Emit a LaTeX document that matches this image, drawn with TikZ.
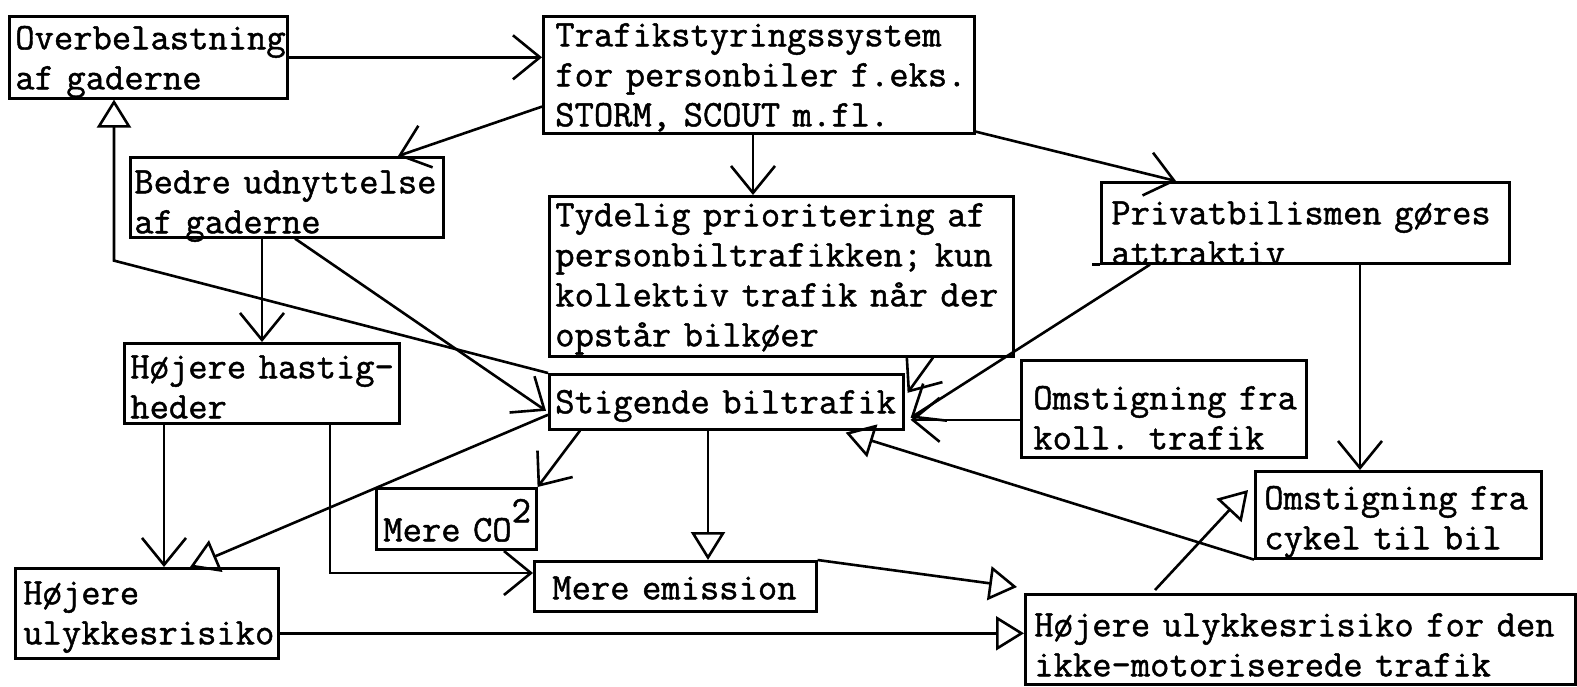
\documentclass[tikz,border=0pt]{standalone}
\usepackage{fontspec}
\newfontfamily\tw[FakeBold=1.2]{Latin Modern Mono}
\usetikzlibrary{arrows.meta,calc}
\newcommand\boxfont{\tw\fontsize{37.5}{40}\selectfont\hyphenpenalty=10000\exhyphenpenalty=10000}
\newcommand\tline[1]{\mbox{#1}}
\begin{document}
\begin{tikzpicture}[x=1pt,y=-1pt,
  box/.style={draw, line width=2.6pt, anchor=north west, inner ysep=0pt, align=left, font=\boxfont},
  % inner xsep, text width, first baseline below the top, rest of the height
  dims/.style n args={4}{inner xsep=#1pt, text width=#2pt, text height=#3pt, text depth=#4pt},
  link/.style={line width=2.6pt},
  barb/.style={link, -{Straight Barb[length=27pt,width=44pt]}},
  tri/.style={link, -{Triangle[open,length=28pt,width=34pt]}}]
\fill[white] (0,0) rectangle (1577,686);
\useasboundingbox (0,0) rectangle (1577,686);

% boxes
\node[box, dims={6}{266}{33}{49}] (over) at (8,15) {Overbelastning\\\tline{af gaderne}};
\node[box, dims={12}{407}{30}{87}] (traf) at (542,15) {Trafikstyringssystem\\\tline{for personbiler f.eks.}\\\tline{STORM, SCOUT m.fl.}};
\node[box, dims={4}{305}{36}{44}] (bedre) at (129,156) {\tline{Bedre udnyttelse}\\\tline{af gaderne}};
\node[box, dims={6}{452}{30}{130}] (tyd) at (548,195) {\tline{Tydelig prioritering af}\\\tline{personbiltrafikken; kun}\\\tline{kollektiv trafik når der}\\\tline{opstår bilkøer}};
\node[box, dims={10}{388}{42}{39}] (priv) at (1100,181) {\tline{Privatbilismen gøres}\\attraktiv};
\node[box, dims={6}{263}{35}{45}] (hast) at (123,342) {\tline{Højere hastig-}\\heder};
\node[box, dims={6}{342}{39}{16}] (stig) at (548,373) {\tline{Stigende biltrafik}};
\node[box, dims={12}{261}{49}{48}] (koll) at (1020,359) {\tline{Omstigning fra}\\\tline{koll. trafik}};
\node[box, dims={7}{146}{53}{8}] (co) at (375,487) {\tline{Mere CO\raisebox{19pt}{2}}};
\node[box, dims={18}{246}{38}{12}] (emis) at (533,560) {\tline{Mere emission}};
\node[box, dims={8}{247}{36}{54}] (ulyk) at (14,567) {Højere\\ulykkesrisiko};
\node[box, dims={9}{532}{42}{48}] (den) at (1024,593) {\tline{Højere ulykkesrisiko for den}\\\tline{ikke-motoriserede trafik}};
\node[box, dims={9}{268}{38}{49}] (cyk) at (1254,470) {\tline{Omstigning fra}\\\tline{cykel til bil}};
\draw[link] (priv.south west) -- ++(-8,0);

% connectors
\draw[barb] (over.east) -- (over.east -| traf.west);
\draw[barb] ($(traf.south west)+(0,-28)$) -- ($(bedre.north west)+(269,0)$);
\draw[barb] ($(traf.south west)+(211,0)$) -- ($(tyd.north west)+(205,0)$);
\draw[barb] ($(traf.south east)+(0,-3)$) -- ($(priv.north west)+(76,0)$);
\draw[barb] ($(bedre.south west)+(133,0)$) -- ($(hast.north west)+(139,0)$);
\draw[barb] ($(bedre.south west)+(166,0)$) -- ($(stig.west)+(-2,9)$);
\draw[tri] (stig.north west) -- ($(over.south west)+(106,161)$) -- ($(over.south west)+(106,0)$);
\draw[tri] ($(stig.west)+(0,13)$) -- ($(ulyk.north west)+(176,0)$);
\draw[barb] ($(tyd.south west)+(385,0)$) -- ($(stig.east)+(3,-9)$);
\draw[barb] ($(priv.south west)+(50,0)$) -- ($(stig.east)+(6,16)$);
\draw[barb] ($(koll.west)+(0,11)$) -- ($(stig.east)+(6,18)$);
\draw[tri] (cyk.south west) -- ($(stig.south east)+(-59,2)$);
\draw[barb] ($(priv.south west)+(260,0)$) -- ($(cyk.north west)+(106,0)$);
\draw[barb] ($(stig.south west)+(32,0)$) -- (co.north east);
\draw[tri] ($(stig.south west)+(160,0)$) -- ($(emis.north west)+(175,0)$);
\draw[barb] ($(hast.south west)+(207,0)$) -- ($(emis.north west)+(-203,13)$) -- ($(emis.north west)+(0,13)$);
\draw[barb] ($(hast.south west)+(41,0)$) -- ($(ulyk.north west)+(150,0)$);
\draw[tri] (emis.north east) -- ($(den.north west)+(-7,-6)$);
\draw[tri] ($(ulyk.east)+(0,20)$) -- ($(den.west)+(0,-6)$);
\draw[tri] ($(den.north west)+(131,-3)$) -- ($(cyk.north west)+(-6,20)$);
\end{tikzpicture}
\end{document}
